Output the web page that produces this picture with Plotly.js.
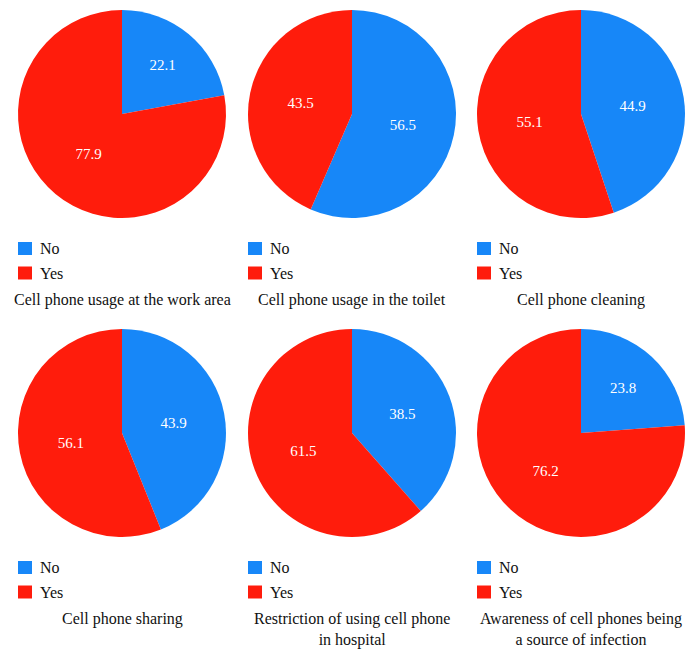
<!DOCTYPE html>
<html>
<head>
<meta charset="utf-8">
<script src="https://cdn.plot.ly/plotly-3.0.1.min.js"></script>
<style>
  html, body { margin: 0; padding: 0; background: #ffffff; }
  #chart { width: 695px; height: 655px; }
</style>
</head>
<body>
<div id="chart"></div>
<script>
// Chart data
const categories = ['No', 'Yes'];
const titles = [
  'Cell phone usage at the work area',
  'Cell phone usage in the toilet',
  'Cell phone cleaning',
  'Cell phone sharing',
  'Restriction of using cell phone<br>in hospital',
  'Awareness of cell phones being<br>a source of infection'
];
const noValues = [22.1, 56.5, 44.9, 43.9, 38.5, 23.8];
const yesValues = [77.9, 43.5, 55.1, 56.1, 61.5, 76.2];
const sliceColors = ['#1787f8', '#ff1c0c'];

// Page geometry (pixels)
const W = 695;
const H = 655;
const colLeft = [18, 248, 477];
const rowTop = [10, 329];
const pieSize = 208;
const FONT = 'Liberation Serif';

const px = (x) => x / W;
const py = (y) => 1 - y / H;

const data = [];
const shapes = [];
const annotations = [];

for (let i = 0; i < titles.length; i += 1) {
  const left = colLeft[i % 3];
  const top = rowTop[Math.floor(i / 3)];

  // Pie
  data.push({
    type: 'pie',
    labels: categories,
    values: [noValues[i], yesValues[i]],
    sort: false,
    direction: 'clockwise',
    rotation: 0,
    textinfo: 'value',
    textposition: 'inside',
    insidetextorientation: 'horizontal',
    textfont: { family: FONT, size: 15, color: '#ffffff' },
    marker: { colors: sliceColors, line: { width: 0 } },
    showlegend: false,
    hoverinfo: 'skip',
    domain: {
      x: [px(left), px(left + pieSize)],
      y: [py(top + pieSize), py(top)]
    }
  });

  // Legend (square + label) under each pie
  for (let k = 0; k < categories.length; k += 1) {
    const cy = top + 238.5 + k * 24.5;
    shapes.push({
      type: 'rect',
      xref: 'paper', yref: 'paper',
      x0: px(left), x1: px(left + 14),
      y0: py(cy - 6.5), y1: py(cy + 6.5),
      fillcolor: sliceColors[k],
      line: { width: 0 }
    });
    annotations.push({
      xref: 'paper', yref: 'paper',
      x: px(left + 20), y: py(cy),
      xanchor: 'left', yanchor: 'middle',
      text: categories[k],
      showarrow: false,
      font: { family: FONT, size: 16, color: '#111111' }
    });
  }

  // Caption
  annotations.push({
    xref: 'paper', yref: 'paper',
    x: px(left + pieSize / 2), y: py(top + 279),
    xanchor: 'center', yanchor: 'top',
    text: titles[i],
    showarrow: false,
    font: { family: FONT, size: 16, color: '#111111' }
  });
}

const layout = {
  width: W,
  height: H,
  margin: { l: 0, r: 0, t: 0, b: 0 },
  paper_bgcolor: '#ffffff',
  font: { family: FONT },
  showlegend: false,
  shapes: shapes,
  annotations: annotations
};

Plotly.newPlot('chart', data, layout, { displayModeBar: false, staticPlot: true });
</script>
</body>
</html>
